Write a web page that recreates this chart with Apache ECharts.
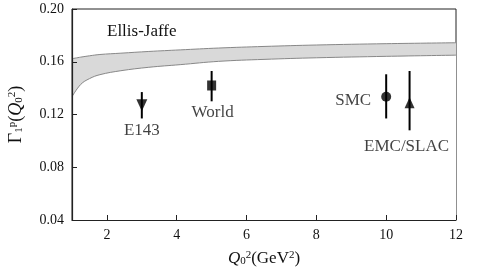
<!DOCTYPE html>
<html>
<head>
<meta charset="utf-8">
<script src="https://cdn.jsdelivr.net/npm/echarts@6/dist/echarts.min.js"></script>
<style>html,body{margin:0;padding:0;background:#fff}#c{width:477px;height:273px}</style>
</head>
<body>
<div id="c"></div>
<script>
// Ellis-Jaffe band
const bandX = [1, 1.25, 1.5, 1.8, 2.4, 3.2, 4.1, 5.2, 6.5, 8, 10, 12];
const bandLower = [0.1335, 0.1428, 0.1472, 0.1502, 0.1532, 0.1558, 0.1578, 0.1603, 0.1618, 0.1630, 0.1641, 0.1650];
const bandUpper = [0.1623, 0.1635, 0.1645, 0.1655, 0.1665, 0.1678, 0.1690, 0.1704, 0.1716, 0.1727, 0.1737, 0.1744];
// Experiments
const expNames = ['E143', 'World', 'SMC', 'EMC/SLAC'];
const expX = [3, 5, 10, 10.67];
const expY = [0.127, 0.142, 0.1335, 0.129];
const expLow = [0.117, 0.130, 0.117, 0.108];
const expHigh = [0.137, 0.153, 0.1505, 0.153];
// ticks
const xTicks = [2, 4, 6, 8, 10, 12];
const yTicks = [0.04, 0.08, 0.12, 0.16, 0.20];

const FONT = 'Liberation Serif';
const symbols = ['triangle', 'rect', 'circle', 'triangle'];
const symbolRot = [180, 0, 0, 0];
const symbolSizes = [[11, 12], [9, 10], 10, [10, 11]];
const labelPos = [
  {position: 'bottom', distance: 11, offset: [0, 0]},
  {position: 'bottom', distance: 14, offset: [1, 0]},
  {position: 'left', distance: 10, offset: [0, 4]},
  {position: 'bottom', distance: 30, offset: [-3, 0]}
];

const chart = echarts.init(document.getElementById('c'));
const upperData = bandX.map((x, i) => [x, bandUpper[i]]);
const lowerData = bandX.map((x, i) => [x, bandLower[i]]);
const errData = expX.map((x, i) => [x, expLow[i], expHigh[i]]);
const ptData = expX.map((x, i) => ({
  value: [x, expY[i]],
  name: expNames[i],
  symbol: symbols[i],
  symbolRotate: symbolRot[i],
  symbolSize: symbolSizes[i],
  label: Object.assign({show: true, formatter: expNames[i]}, labelPos[i])
}));

const subSup = {
  sub: {fontFamily: FONT, fontSize: 11, color: '#111', verticalAlign: 'bottom', padding: [6, 0, 0, 0]},
  sup: {fontFamily: FONT, fontSize: 11, color: '#111', verticalAlign: 'top', padding: [0, 0, 6, 0]}
};

chart.setOption({
  animation: false,
  backgroundColor: '#fff',
  grid: {left: 72, right: 21, top: 9, bottom: 53, outerBoundsMode: 'none', containLabel: false,
         show: true, borderColor: '#222', borderWidth: 1, backgroundColor: 'transparent'},
  xAxis: {
    type: 'value', min: 1, max: 12, z: 10,
    axisLine: {show: true, onZero: false, lineStyle: {color: '#222', width: 1.2}},
    axisTick: {show: true, inside: true, length: 5, customValues: xTicks, lineStyle: {color: '#222'}},
    axisLabel: {customValues: xTicks, color: '#111', fontFamily: FONT, fontSize: 14, margin: 8},
    splitLine: {show: false},
    name: '{q|Q}{sub|0}{sup|2}{n|(GeV}{sup|2}{n|)}',
    nameLocation: 'middle', nameGap: 30,
    nameTextStyle: {
      rich: Object.assign({
        q: {fontFamily: FONT, fontSize: 17, fontStyle: 'italic', color: '#111'},
        n: {fontFamily: FONT, fontSize: 17, color: '#111'}
      }, subSup)
    }
  },
  yAxis: {
    type: 'value', min: 0.04, max: 0.20, interval: 0.04, z: 10,
    axisLine: {show: true, onZero: false, lineStyle: {color: '#222', width: 1.2}},
    axisTick: {show: true, inside: true, length: 5, lineStyle: {color: '#222'}},
    axisLabel: {color: '#111', fontFamily: FONT, fontSize: 14, margin: 8, formatter: v => v.toFixed(2)},
    splitLine: {show: false},
    name: '{g|Γ}{sub|1}{sup|p}{n|(}{q|Q}{sub|0}{sup|2}{n|)}',
    nameLocation: 'middle', nameGap: 47, nameRotate: 90,
    nameTextStyle: {
      rich: Object.assign({
        g: {fontFamily: FONT, fontSize: 18, color: '#111'},
        q: {fontFamily: FONT, fontSize: 18, fontStyle: 'italic', color: '#111'},
        n: {fontFamily: FONT, fontSize: 18, color: '#111'}
      }, subSup)
    }
  },
  series: [
    {
      type: 'line', data: upperData, smooth: 0.4, symbol: 'none',
      lineStyle: {color: '#888', width: 1},
      areaStyle: {color: '#d9d9d9', opacity: 1, origin: 'start'}, z: 1
    },
    {
      type: 'line', data: lowerData, smooth: 0.4, symbol: 'none',
      lineStyle: {color: '#888', width: 1},
      areaStyle: {color: '#ffffff', opacity: 1, origin: 'start'}, z: 2
    },
    {
      type: 'custom', data: errData, z: 3,
      renderItem: function (params, api) {
        const x = api.value(0);
        const p1 = api.coord([x, api.value(1)]);
        const p2 = api.coord([x, api.value(2)]);
        return {type: 'line', shape: {x1: p1[0], y1: p1[1], x2: p2[0], y2: p2[1]}, style: {stroke: '#000', lineWidth: 2}};
      }
    },
    {
      type: 'scatter', data: ptData, z: 4,
      itemStyle: {color: '#000'},
      label: {color: '#111', fontFamily: FONT, fontSize: 17}
    }
  ],
  graphic: [
    {type: 'text', left: 107, top: 23, z: 20, style: {text: 'Ellis-Jaffe', fontFamily: FONT, fontSize: 17, fill: '#111'}}
  ]
});
</script>
</body>
</html>
